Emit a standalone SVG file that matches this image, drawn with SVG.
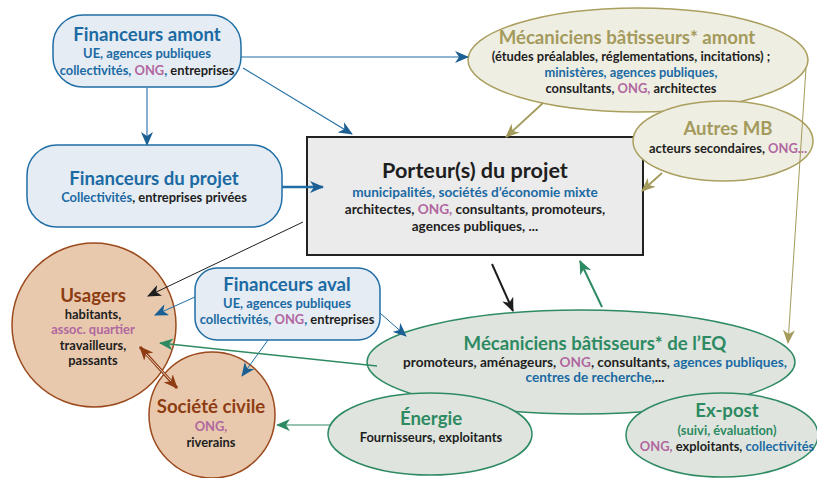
<svg xmlns="http://www.w3.org/2000/svg" width="817" height="478" viewBox="0 0 817 478">
<style>
text{font-family:Lato,"Source Sans Pro","Noto Sans",sans-serif;font-weight:700;text-anchor:middle}
.t{font-size:18.6px}
.b{font-size:12.9px;fill:#1e1e1e}
.bb{font-size:13.6px;fill:#1e1e1e}
.blue{fill:#1b6aa3}
.pur{fill:#b0679f}
.dark{fill:#1e1e1e}
.ol{fill:#a39a5c}
.gr{fill:#2e8a62}
.br{fill:#8e3d12}
.fin{fill:#e6ecf4;stroke:#1f6ea5;stroke-width:1.5}
.mba{fill:#efeee3;stroke:#aa9f5e;stroke-width:1.5}
.eq{fill:#dfe5de;stroke:#2e8a62;stroke-width:1.5}
.us{fill:#e8c9ae;stroke:#9b4a1e;stroke-width:1.5}
.c{fill:none}
</style>
<defs>
<marker id="aBlue" viewBox="0 0 14 12" refX="13" refY="6" markerWidth="14" markerHeight="12" markerUnits="userSpaceOnUse" orient="auto"><path d="M0,0 L14,6 L0,12 L4,6 z" fill="#1b5f93"/></marker>
<marker id="aBlack" viewBox="0 0 14 12" refX="13" refY="6" markerWidth="14" markerHeight="12" markerUnits="userSpaceOnUse" orient="auto"><path d="M0,0 L14,6 L0,12 L4,6 z" fill="#1e1e1e"/></marker>
<marker id="aOl" viewBox="0 0 14 12" refX="13" refY="6" markerWidth="14" markerHeight="12" markerUnits="userSpaceOnUse" orient="auto"><path d="M0,0 L14,6 L0,12 L4,6 z" fill="#a39a5c"/></marker>
<marker id="aGr" viewBox="0 0 14 12" refX="13" refY="6" markerWidth="14" markerHeight="12" markerUnits="userSpaceOnUse" orient="auto"><path d="M0,0 L14,6 L0,12 L4,6 z" fill="#2e8a62"/></marker>
<marker id="aBr" viewBox="0 0 14 12" refX="13" refY="6" markerWidth="14" markerHeight="12" markerUnits="userSpaceOnUse" orient="auto-start-reverse"><path d="M0,0 L14,6 L0,12 L4,6 z" fill="#8e3d12"/></marker>
</defs>

<g id="financeurs-amont">
<rect class="fin" x="53" y="15" width="188" height="72" rx="30"/>
<text class="t blue" x="147" y="41">Financeurs amont</text>
<text class="b blue" x="147" y="58">UE, agences publiques</text>
<text class="b" x="147" y="75"><tspan class="blue">collectivités, </tspan><tspan class="pur">ONG</tspan><tspan class="blue">, </tspan><tspan class="dark">entreprises</tspan></text>
</g>

<g id="financeurs-projet">
<rect class="fin" x="27" y="145" width="255" height="82" rx="30"/>
<text class="t blue" x="154" y="185">Financeurs du projet</text>
<text class="b" x="154" y="202"><tspan class="blue">Collectivités</tspan>, entreprises privées</text>
</g>

<g id="porteur">
<rect x="307" y="137" width="336" height="118" fill="#ebebeb" stroke="#222" stroke-width="2"/>
<text x="475" y="178" style="font-size:21.6px" class="dark">Porteur(s) du projet</text>
<text class="bb blue" x="475" y="197">municipalités, sociétés d’économie mixte</text>
<text class="bb" x="475" y="214">architectes, <tspan class="pur">ONG,</tspan> consultants, promoteurs,</text>
<text class="bb" x="475" y="231">agences publiques, ...</text>
</g>

<g id="mb-amont">
<ellipse class="mba" cx="638" cy="60" rx="170" ry="52"/>
<text class="t ol" x="627" y="44">Mécaniciens bâtisseurs* amont</text>
<text class="b" x="631" y="61">(études préalables, réglementations, incitations) ;</text>
<text class="b blue" x="631" y="77">ministères, agences publiques,</text>
<text class="b" x="631" y="93">consultants, <tspan class="pur">ONG,</tspan> architectes</text>
</g>

<g id="autres-mb">
<ellipse class="mba" cx="723" cy="141" rx="90" ry="40"/>
<text class="t ol" x="728" y="135">Autres MB</text>
<text class="b" x="728" y="153">acteurs secondaires, <tspan class="pur">ONG...</tspan></text>
</g>

<g id="financeurs-aval">
<rect class="fin" x="195" y="268" width="185" height="72" rx="22"/>
<text class="t blue" x="287" y="291">Financeurs aval</text>
<text class="b blue" x="287" y="308">UE, agences publiques</text>
<text class="b" x="287" y="324"><tspan class="blue">collectivités, </tspan><tspan class="pur">ONG</tspan><tspan class="blue">, </tspan><tspan class="dark">entreprises</tspan></text>
</g>

<g id="usagers">
<circle class="us" cx="94" cy="325" r="82"/>
<text class="t br" x="93" y="302">Usagers</text>
<text class="b" x="93" y="319">habitants,</text>
<text class="b pur" x="93" y="334">assoc. quartier</text>
<text class="b" x="93" y="350">travailleurs,</text>
<text class="b" x="93" y="365">passants</text>
</g>

<g id="societe-civile">
<circle class="us" cx="212" cy="415" r="63"/>
<text class="t br" x="211" y="413">Société civile</text>
<text class="b pur" x="211" y="431">ONG,</text>
<text class="b" x="211" y="447">riverains</text>
</g>

<g id="mb-eq">
<ellipse class="eq" cx="581" cy="362" rx="214" ry="52"/>
<text class="t gr" x="595" y="350">Mécaniciens bâtisseurs* de l’EQ</text>
<text class="bb" x="595" y="367">promoteurs, aménageurs, <tspan class="pur">ONG</tspan>, consultants, <tspan class="blue">agences publiques,</tspan></text>
<text class="bb blue" x="595" y="382">centres de recherche,<tspan class="dark">...</tspan></text>
</g>

<g id="energie">
<ellipse class="eq" cx="430" cy="434" rx="102" ry="41"/>
<text class="t gr" x="431" y="425">Énergie</text>
<text class="b" x="431" y="442">Fournisseurs, exploitants</text>
</g>

<g id="ex-post">
<ellipse class="eq" cx="722" cy="435" rx="96" ry="42"/>
<text class="t gr" x="727" y="417">Ex-post</text>
<text class="b gr" x="727" y="435">(suivi, évaluation)</text>
<text class="b" x="727" y="451"><tspan class="pur">ONG,</tspan> exploitants, <tspan class="blue">collectivités</tspan></text>
</g>

<g id="connectors" class="c">
<path d="M241,57 L468,57" stroke="#1f6ea5" stroke-width="1.2" marker-end="url(#aBlue)"/>
<path d="M243,68 L352,134" stroke="#1f6ea5" stroke-width="1.2" marker-end="url(#aBlue)"/>
<path d="M147,88 L147,145" stroke="#5f93c0" stroke-width="1.5" marker-end="url(#aBlue)"/>
<path d="M282,187 L323,187" stroke="#1f6ea5" stroke-width="2.5" marker-end="url(#aBlue)"/>
<path d="M543,103 L506,137" stroke="#a39a5c" stroke-width="1.8" marker-end="url(#aOl)"/>
<path d="M662,173 L642,191" stroke="#a39a5c" stroke-width="1.8" marker-end="url(#aOl)"/>
<path d="M806,68 L788,343" stroke="#a39a5c" stroke-width="1" marker-end="url(#aOl)"/>
<path d="M303,222 L148,296" stroke="#1e1e1e" stroke-width="1" marker-end="url(#aBlack)"/>
<path d="M492,264 L513,311" stroke="#1e1e1e" stroke-width="2" marker-end="url(#aBlack)"/>
<path d="M602,307 L580,261" stroke="#2e8a62" stroke-width="2" marker-end="url(#aGr)"/>
<path d="M195,297 L155,315" stroke="#1f6ea5" stroke-width="1" marker-end="url(#aBlue)"/>
<path d="M268,340 L242,376" stroke="#1f6ea5" stroke-width="1" marker-end="url(#aBlue)"/>
<path d="M380,313 L406,336" stroke="#1f6ea5" stroke-width="1" marker-end="url(#aBlue)"/>
<path d="M377,366 L160,343" stroke="#2e8a62" stroke-width="1.5" marker-end="url(#aGr)"/>
<path d="M330,425 L277,425" stroke="#2e8a62" stroke-width="1.2" marker-end="url(#aGr)"/>
<path d="M140,347 L177,388" stroke="#8e3d12" stroke-width="3" marker-start="url(#aBr)" marker-end="url(#aBr)"/>
<path d="M146,354 L171,381" stroke="#f1dccb" stroke-width="1"/>
</g>
</svg>
